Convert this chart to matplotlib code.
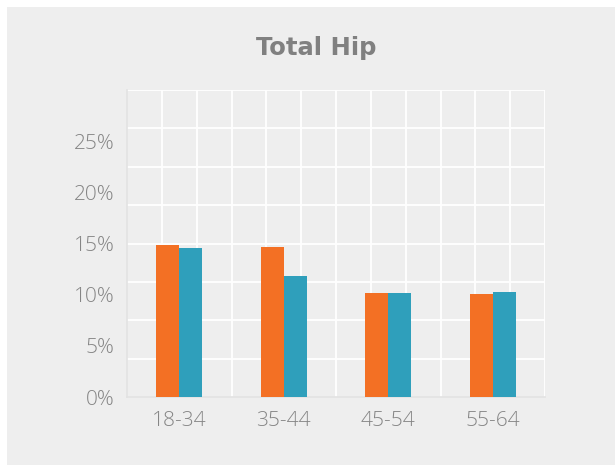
import numpy as np
import matplotlib.pyplot as plt
from matplotlib.patches import Rectangle

# donnees
categories = ["18-34", "35-44", "45-54", "55-64"]
serie_orange = [14.9, 14.7, 10.2, 10.1]
serie_bleue = [14.6, 11.8, 10.2, 10.3]
graduations = [0, 5, 10, 15, 20, 25]
etiquettes = ["0%", "5%", "10%", "15%", "20%", "25%"]

gris_fond = "#eeeeee"
gris_texte = "#858585"

fig = plt.figure(figsize=(6.15, 4.65), dpi=100, facecolor="white")
# fond gris avec une petite marge blanche en haut et a gauche
fig.patches.append(Rectangle((7 / 615, 0), 1, 1 - 7 / 465, transform=fig.transFigure,
                             facecolor=gris_fond, edgecolor="none", zorder=-10))

ax = fig.add_axes([127 / 615, 68 / 465, 418 / 615, 307 / 465])
ax.set_facecolor(gris_fond)

x = np.arange(len(categories))
largeur = 0.22
ax.bar(x - largeur / 2, serie_orange, largeur, color="#f37024", zorder=3)
ax.bar(x + largeur / 2, serie_bleue, largeur, color="#2f9fbb", zorder=3)

ax.set_xlim(-0.5, len(categories) - 0.5)
ax.set_ylim(0, 30)

# quadrillage blanc decoratif
for k in range(1, 13):
    ax.axvline(-0.5 + k / 3, color="white", lw=1.3, zorder=1)
for k in range(1, 9):
    ax.axhline(k * 3.75, color="white", lw=1.3, zorder=1)

for s in ["top", "right"]:
    ax.spines[s].set_visible(False)
for s in ["left", "bottom"]:
    ax.spines[s].set_color("#e2e2e2")
    ax.spines[s].set_linewidth(1.2)

ax.set_xticks(x)
ax.set_xticklabels(categories)
ax.set_yticks(graduations)
ax.set_yticklabels(etiquettes)
ax.tick_params(length=0, labelsize=15, labelcolor=gris_texte)
ax.tick_params(axis="y", pad=9)
ax.tick_params(axis="x", pad=10)
for lab in ax.get_xticklabels() + ax.get_yticklabels():
    lab.set_fontfamily("Open Sans")
    lab.set_fontweight("light")

fig.text(316 / 615, 1 - 55 / 465, "Total Hip", ha="center", va="baseline",
         fontsize=17.5, fontweight="bold", color="#808080", family="DejaVu Sans")

fig.savefig("out.png", dpi=100, facecolor="white")
